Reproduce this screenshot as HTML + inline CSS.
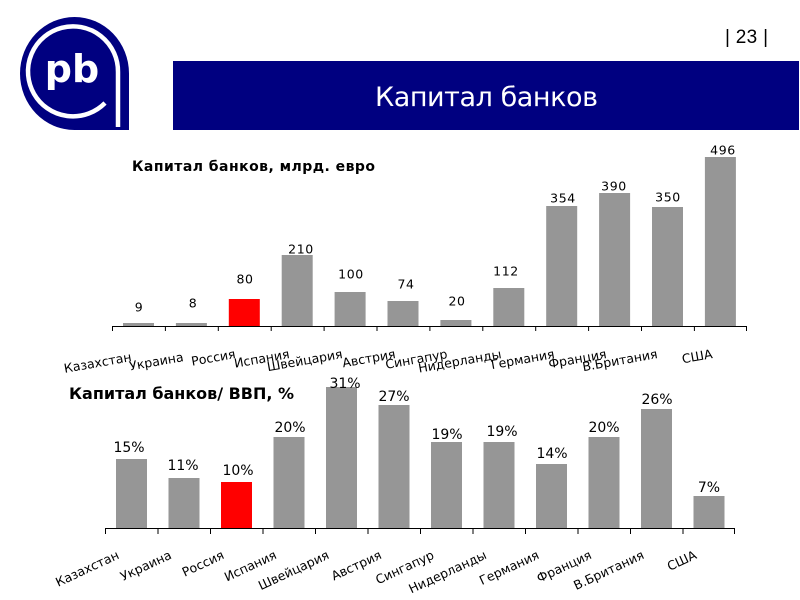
<!DOCTYPE html>
<html>
<head>
<meta charset="utf-8">
<style>
html,body{margin:0;padding:0;background:#fff;}
svg{display:block;}
text{font-family:"DejaVu Sans","Liberation Sans",sans-serif;}
</style>
</head>
<body>
<svg width="800" height="600" viewBox="0 0 800 600" xmlns="http://www.w3.org/2000/svg">
<rect width="800" height="600" fill="#fff"/>

<!-- Logo -->
<path d="M129,130 H74.5 A54.5,56.5 0 1 1 129,73.5 Z" fill="#000080"/>
<path d="M105,103 A45,45 0 1 1 118,72 L118,127" fill="none" stroke="#fff" stroke-width="4.5"/>
<text x="72" y="82" font-size="38" font-weight="bold" fill="#fff" text-anchor="middle" style="font-family:'DejaVu Sans',sans-serif">pb</text>

<!-- Page number -->
<text x="725" y="43" font-size="19" fill="#000" textLength="43" style="font-family:'Liberation Sans',sans-serif">| 23 |</text>

<!-- Banner -->
<rect x="173" y="61" width="626" height="69" fill="#000080"/>
<text x="375" y="106" font-size="27" fill="#fff" textLength="223">Капитал банков</text>

<!-- Top chart -->
<text x="132" y="171" font-size="14" font-weight="bold" fill="#000" textLength="243">Капитал банков, млрд. евро</text>
<g fill="#969696">
<rect x="123" y="323" width="31" height="3"/>
<rect x="175.9" y="323" width="31" height="3"/>
<rect x="228.8" y="299" width="31" height="27" fill="#ff0000"/>
<rect x="281.7" y="255" width="31" height="71"/>
<rect x="334.6" y="292" width="31" height="34"/>
<rect x="387.5" y="301" width="31" height="25"/>
<rect x="440.4" y="320" width="31" height="6"/>
<rect x="493.3" y="288" width="31" height="38"/>
<rect x="546.2" y="206" width="31" height="120"/>
<rect x="599.1" y="193" width="31" height="133"/>
<rect x="652" y="207" width="31" height="119"/>
<rect x="704.9" y="157" width="31" height="169"/>
</g>
<line x1="112" y1="326.5" x2="747" y2="326.5" stroke="#000" stroke-width="1"/>
<g stroke="#000" stroke-width="1">
<line x1="112.5" y1="326" x2="112.5" y2="331"/>
<line x1="165.4" y1="326" x2="165.4" y2="331"/>
<line x1="218.3" y1="326" x2="218.3" y2="331"/>
<line x1="271.2" y1="326" x2="271.2" y2="331"/>
<line x1="324.1" y1="326" x2="324.1" y2="331"/>
<line x1="377" y1="326" x2="377" y2="331"/>
<line x1="429.9" y1="326" x2="429.9" y2="331"/>
<line x1="482.8" y1="326" x2="482.8" y2="331"/>
<line x1="535.7" y1="326" x2="535.7" y2="331"/>
<line x1="588.6" y1="326" x2="588.6" y2="331"/>
<line x1="641.5" y1="326" x2="641.5" y2="331"/>
<line x1="694.4" y1="326" x2="694.4" y2="331"/>
<line x1="746.5" y1="326" x2="746.5" y2="331"/>
</g>
<g font-size="12.5" fill="#000" text-anchor="middle" letter-spacing="0.6">
<text x="139" y="311.5">9</text>
<text x="193" y="307.5">8</text>
<text x="245" y="283.5">80</text>
<text x="301" y="253.5">210</text>
<text x="351" y="278.5">100</text>
<text x="406" y="288.5">74</text>
<text x="457" y="305.5">20</text>
<text x="506" y="275.5">112</text>
<text x="563" y="202.5">354</text>
<text x="614" y="190.5">390</text>
<text x="668" y="201.5">350</text>
<text x="723" y="154.5">496</text>
</g>
<g font-size="12.5" fill="#000" text-anchor="end">
<text transform="translate(132,361) rotate(-10)">Казахстан</text>
<text transform="translate(184,361) rotate(-10)">Украина</text>
<text transform="translate(236,358) rotate(-10)">Россия</text>
<text transform="translate(290,358) rotate(-10)">Испания</text>
<text transform="translate(343,358) rotate(-10)">Швейцария</text>
<text transform="translate(396,358) rotate(-10)">Австрия</text>
<text transform="translate(448,358) rotate(-10)">Сингапур</text>
<text transform="translate(502,358) rotate(-10)">Нидерланды</text>
<text transform="translate(555,358) rotate(-10)">Германия</text>
<text transform="translate(607,358) rotate(-10)">Франция</text>
<text transform="translate(658,358) rotate(-10)">В.Британия</text>
<text transform="translate(713,358) rotate(-10)">США</text>
</g>

<!-- Bottom chart -->
<text x="69" y="399" font-size="16" font-weight="bold" fill="#000" textLength="225">Капитал банков/ ВВП, %</text>
<g fill="#969696">
<rect x="116" y="459" width="31" height="69"/>
<rect x="168.5" y="478" width="31" height="50"/>
<rect x="221" y="482" width="31" height="46" fill="#ff0000"/>
<rect x="273.5" y="437" width="31" height="91"/>
<rect x="326" y="387" width="31" height="141"/>
<rect x="378.5" y="405" width="31" height="123"/>
<rect x="431" y="442" width="31" height="86"/>
<rect x="483.5" y="442" width="31" height="86"/>
<rect x="536" y="464" width="31" height="64"/>
<rect x="588.5" y="437" width="31" height="91"/>
<rect x="641" y="409" width="31" height="119"/>
<rect x="693.5" y="496" width="31" height="32"/>
</g>
<line x1="105" y1="528.5" x2="735" y2="528.5" stroke="#000" stroke-width="1"/>
<g stroke="#000" stroke-width="1">
<line x1="105.5" y1="528" x2="105.5" y2="534"/>
<line x1="158" y1="528" x2="158" y2="534"/>
<line x1="210.5" y1="528" x2="210.5" y2="534"/>
<line x1="263" y1="528" x2="263" y2="534"/>
<line x1="315.5" y1="528" x2="315.5" y2="534"/>
<line x1="368" y1="528" x2="368" y2="534"/>
<line x1="420.5" y1="528" x2="420.5" y2="534"/>
<line x1="473" y1="528" x2="473" y2="534"/>
<line x1="525.5" y1="528" x2="525.5" y2="534"/>
<line x1="578" y1="528" x2="578" y2="534"/>
<line x1="630.5" y1="528" x2="630.5" y2="534"/>
<line x1="683" y1="528" x2="683" y2="534"/>
<line x1="734.5" y1="528" x2="734.5" y2="534"/>
</g>
<g font-size="14" fill="#000" text-anchor="middle">
<text x="129" y="452">15%</text>
<text x="183" y="470">11%</text>
<text x="238" y="475">10%</text>
<text x="290" y="432">20%</text>
<text x="345" y="388">31%</text>
<text x="394" y="401">27%</text>
<text x="447" y="439">19%</text>
<text x="502" y="436">19%</text>
<text x="552" y="458">14%</text>
<text x="604" y="432">20%</text>
<text x="657" y="404">26%</text>
<text x="709" y="492">7%</text>
</g>
<g font-size="12.5" fill="#000" text-anchor="end">
<text transform="translate(120,558) rotate(-25)">Казахстан</text>
<text transform="translate(172.5,558) rotate(-25)">Украина</text>
<text transform="translate(225,558) rotate(-25)">Россия</text>
<text transform="translate(277.5,558) rotate(-25)">Испания</text>
<text transform="translate(330,558) rotate(-25)">Швейцария</text>
<text transform="translate(382.5,558) rotate(-25)">Австрия</text>
<text transform="translate(435,558) rotate(-25)">Сингапур</text>
<text transform="translate(487.5,558) rotate(-25)">Нидерланды</text>
<text transform="translate(540,558) rotate(-25)">Германия</text>
<text transform="translate(592.5,558) rotate(-25)">Франция</text>
<text transform="translate(645,558) rotate(-25)">В.Британия</text>
<text transform="translate(697.5,558) rotate(-25)">США</text>
</g>
</svg>
</body>
</html>
